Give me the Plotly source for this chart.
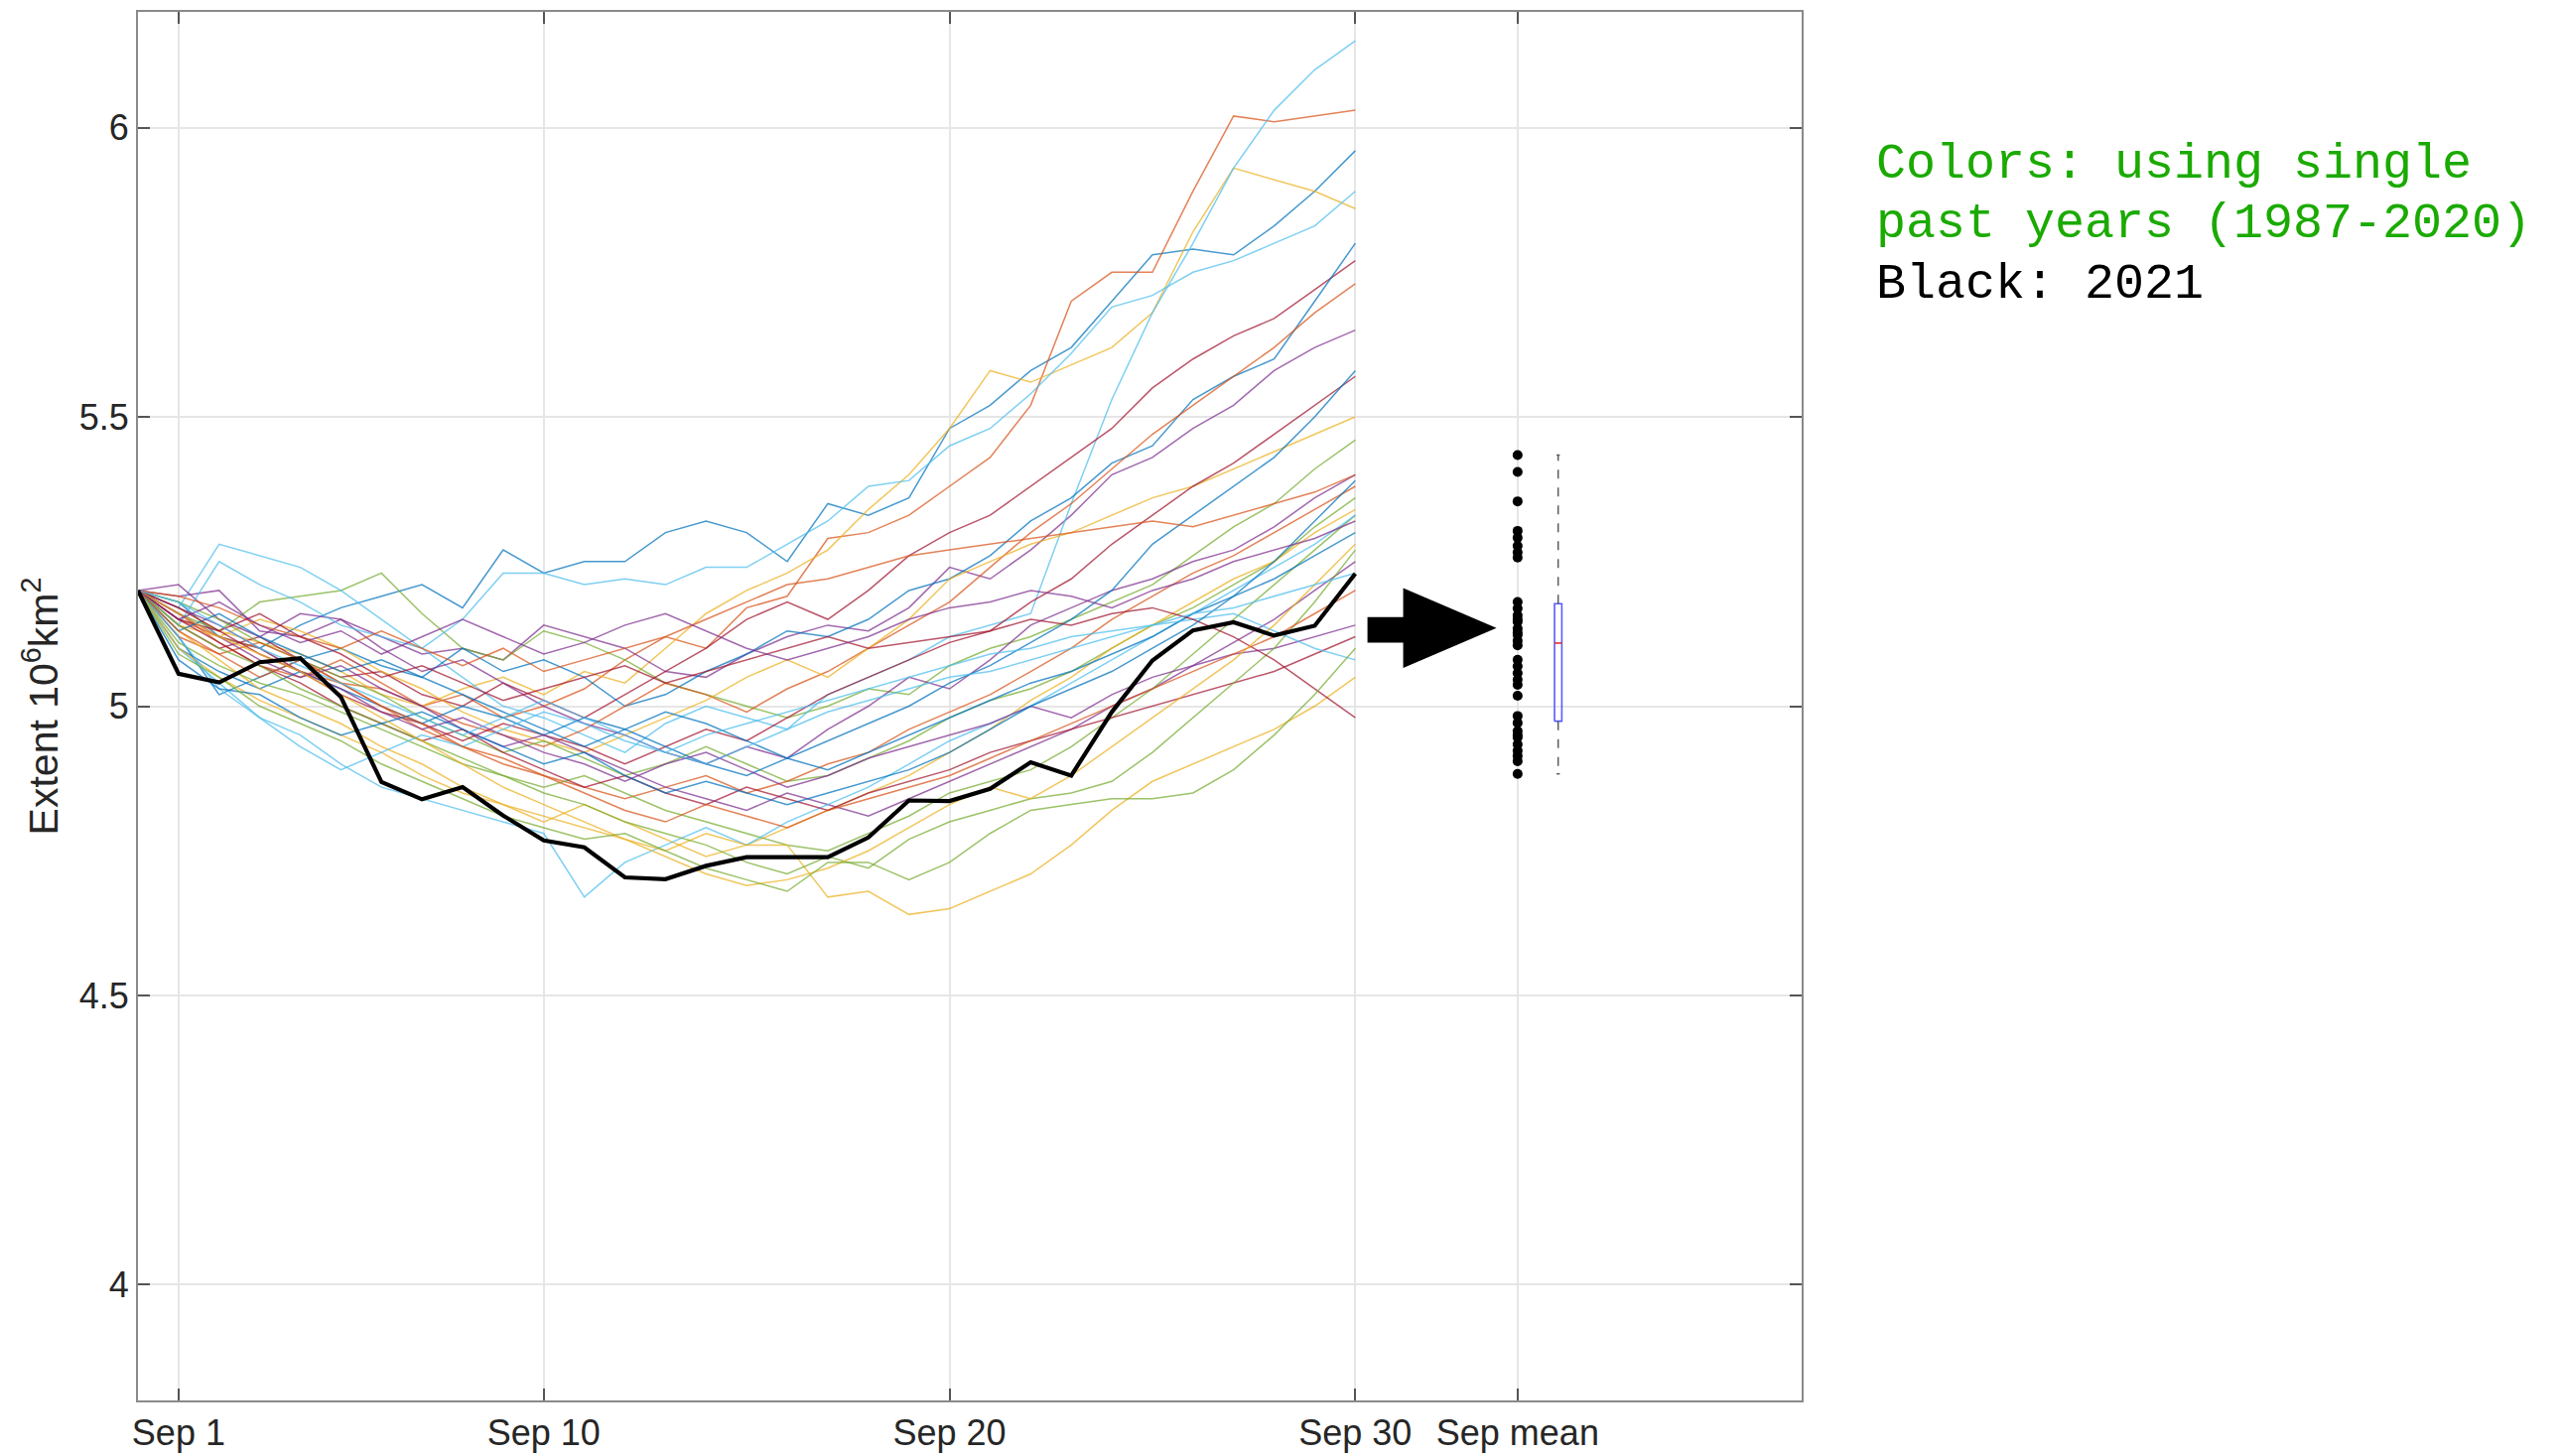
import numpy as np
import plotly.graph_objects as go

# ---------------- data ----------------
days = list(range(0, 31))            # 0 = Aug 31, 1 = Sep 1 ... 30 = Sep 30
tick_vals = [1, 10, 20, 30, 34]
tick_text = ["Sep 1", "Sep 10", "Sep 20", "Sep 30", "Sep mean"]
y_tick_vals = [4, 4.5, 5, 5.5, 6]
y_tick_text = ["4", "4.5", "5", "5.5", "6"]

y1987 = [5.20,5.18,5.12,5.10,5.14,5.17,5.19,5.21,5.17,5.27,5.23,5.25,5.25,5.30,5.32,5.30,5.25,5.35,5.33,5.36,5.48,5.52,5.58,5.62,5.70,5.78,5.79,5.78,5.83,5.89,5.96]
y1988 = [5.20,5.15,5.12,5.10,5.06,5.04,5.03,5.00,5.02,4.98,5.00,5.03,5.08,5.12,5.10,5.17,5.19,5.29,5.30,5.33,5.38,5.43,5.52,5.70,5.75,5.75,5.89,6.02,6.01,6.02,6.03]
y1989 = [5.20,5.17,5.13,5.11,5.09,5.06,5.02,5.00,5.03,5.05,5.02,5.06,5.04,5.10,5.16,5.20,5.23,5.27,5.34,5.40,5.48,5.58,5.56,5.59,5.62,5.68,5.82,5.93,5.91,5.89,5.86]
y1990 = [5.20,5.19,5.20,5.13,5.12,5.15,5.12,5.09,5.10,5.08,5.14,5.12,5.10,5.06,5.05,5.09,5.12,5.14,5.13,5.17,5.24,5.22,5.27,5.33,5.40,5.43,5.48,5.52,5.58,5.62,5.65]
y1991 = [5.20,5.16,5.13,5.18,5.19,5.20,5.23,5.16,5.10,5.08,5.13,5.11,5.08,5.04,5.02,5.00,4.98,5.00,5.03,5.02,5.07,5.10,5.12,5.15,5.18,5.21,5.26,5.31,5.35,5.41,5.46]
y1992 = [5.20,5.17,5.28,5.26,5.24,5.20,5.15,5.10,5.05,5.00,4.98,4.95,4.92,4.97,5.00,4.98,4.96,5.02,5.05,5.08,5.12,5.14,5.16,5.35,5.53,5.68,5.80,5.93,6.03,6.10,6.15]
y1993 = [5.20,5.14,5.10,5.12,5.08,5.05,5.06,5.02,5.00,5.04,5.01,4.98,5.02,5.06,5.10,5.15,5.18,5.15,5.20,5.26,5.30,5.33,5.38,5.43,5.48,5.55,5.60,5.64,5.67,5.72,5.77]
y1994 = [5.20,5.12,5.02,5.05,5.08,5.10,5.07,5.05,5.10,5.06,5.08,5.05,5.00,5.02,5.06,5.09,5.13,5.12,5.15,5.20,5.22,5.26,5.32,5.36,5.42,5.45,5.53,5.57,5.60,5.70,5.80]
y1995 = [5.20,5.16,5.11,5.07,5.05,5.08,5.04,5.00,4.97,4.95,4.93,4.96,5.00,5.04,5.02,4.99,5.03,5.06,5.10,5.14,5.18,5.24,5.30,5.35,5.41,5.47,5.52,5.57,5.62,5.68,5.73]
y1996 = [5.20,5.14,5.12,5.15,5.13,5.10,5.06,5.03,4.99,4.96,4.94,4.92,4.95,4.98,5.01,5.05,5.08,5.05,5.10,5.15,5.22,5.25,5.28,5.30,5.33,5.36,5.38,5.41,5.44,5.47,5.50]
y1997 = [5.20,5.21,5.15,5.12,5.16,5.15,5.10,5.06,5.08,5.04,5.00,4.97,4.95,4.92,4.90,4.93,4.91,4.96,5.00,5.05,5.03,5.08,5.14,5.17,5.20,5.22,5.25,5.27,5.31,5.36,5.40]
y1998 = [5.20,5.18,5.15,5.11,5.08,5.05,5.02,4.98,4.95,4.92,4.94,4.91,4.88,4.90,4.93,4.90,4.87,4.88,4.91,4.94,4.98,5.01,5.03,5.06,5.10,5.14,5.17,5.21,5.25,5.31,5.36]
y1999 = [5.20,5.14,5.25,5.21,5.18,5.14,5.12,5.10,5.15,5.23,5.23,5.21,5.22,5.21,5.24,5.24,5.28,5.32,5.38,5.39,5.45,5.48,5.54,5.61,5.69,5.71,5.75,5.77,5.80,5.83,5.89]
y2000 = [5.20,5.15,5.13,5.09,5.06,5.02,4.99,4.97,4.94,4.97,4.95,4.93,4.90,4.93,4.96,4.94,4.98,5.02,5.05,5.08,5.11,5.13,5.18,5.22,5.28,5.33,5.38,5.42,5.47,5.52,5.57]
y2001 = [5.20,5.10,5.06,5.03,5.06,5.03,5.00,4.97,5.00,4.98,4.95,4.98,4.96,4.93,4.90,4.88,4.91,4.94,4.97,5.00,5.04,5.07,5.11,5.15,5.20,5.28,5.33,5.38,5.43,5.50,5.58]
y2002 = [5.20,5.12,5.09,5.11,5.08,5.04,5.00,4.96,4.93,4.91,4.88,4.86,4.84,4.86,4.88,4.85,4.87,4.90,4.92,4.96,4.99,5.02,5.06,5.10,5.15,5.19,5.23,5.26,5.30,5.34,5.38]
y2003 = [5.20,5.13,5.08,5.03,5.00,4.97,4.93,4.90,4.86,4.83,4.80,4.83,4.80,4.77,4.74,4.76,4.79,4.82,4.85,4.88,4.92,4.96,5.01,5.05,5.10,5.14,5.18,5.22,5.25,5.30,5.34]
y2004 = [5.20,5.16,5.12,5.08,5.05,5.07,5.03,5.00,4.96,4.93,4.95,4.92,4.89,4.86,4.84,4.82,4.85,4.83,4.81,4.84,4.87,4.90,4.93,4.96,5.00,5.03,5.07,5.11,5.15,5.20,5.25]
y2005 = [5.20,5.11,5.07,5.04,5.02,4.99,4.96,4.93,4.90,4.88,4.86,4.88,4.85,4.82,4.80,4.78,4.76,4.75,4.78,4.81,4.85,4.87,4.89,4.93,4.98,5.03,5.09,5.15,5.21,5.27,5.33]
y2006 = [5.20,5.10,5.04,4.98,4.95,4.90,4.86,4.84,4.82,4.80,4.78,4.67,4.73,4.76,4.79,4.76,4.80,4.83,4.86,4.90,4.94,4.97,5.00,5.04,5.08,5.12,5.16,5.20,5.24,5.28,5.33]
y2007 = [5.20,5.15,5.11,5.07,5.04,5.00,4.97,4.94,4.96,4.92,4.89,4.86,4.88,4.85,4.83,4.86,4.84,4.82,4.85,4.87,4.89,4.92,4.94,4.96,4.98,5.00,5.02,5.04,5.06,5.09,5.12]
y2008 = [5.20,5.13,5.16,5.12,5.09,5.06,5.08,5.05,5.02,4.99,4.96,4.93,4.96,4.99,4.97,4.94,4.91,4.89,4.92,4.95,4.98,5.01,5.04,5.06,5.09,5.12,5.16,5.19,5.22,5.26,5.30]
y2009 = [5.20,5.19,5.17,5.14,5.12,5.10,5.13,5.10,5.07,5.10,5.06,5.08,5.10,5.12,5.15,5.18,5.21,5.22,5.24,5.26,5.27,5.28,5.29,5.30,5.31,5.32,5.31,5.33,5.35,5.37,5.40]
y2010 = [5.20,5.10,5.05,5.01,4.98,4.95,4.92,4.88,4.85,4.83,4.81,4.79,4.77,4.75,4.78,4.76,4.76,4.67,4.68,4.64,4.65,4.68,4.71,4.76,4.82,4.87,4.90,4.93,4.96,5.00,5.05]
y2011 = [5.20,5.17,5.14,5.10,5.06,5.03,4.99,4.96,4.98,4.95,4.92,4.90,4.87,4.90,4.92,4.89,4.86,4.88,4.91,4.93,4.95,4.97,5.00,4.98,5.02,5.05,5.07,5.09,5.10,5.12,5.14]
y2012 = [5.20,5.14,5.10,5.07,5.03,5.00,4.97,4.94,4.91,4.88,4.85,4.83,4.80,4.78,4.76,4.73,4.71,4.74,4.72,4.77,4.80,4.82,4.84,4.85,4.87,4.92,4.98,5.04,5.10,5.18,5.27]
y2013 = [5.20,5.12,5.03,4.98,4.93,4.89,4.92,4.95,4.93,4.96,4.99,4.97,4.94,4.92,4.95,4.97,4.99,5.01,5.03,5.05,5.07,5.09,5.10,5.12,5.13,5.14,5.15,5.16,5.13,5.10,5.08]
y2014 = [5.20,5.17,5.13,5.16,5.12,5.09,5.05,5.07,5.04,5.01,5.03,5.05,5.07,5.04,5.06,5.08,5.10,5.12,5.10,5.11,5.12,5.13,5.15,5.14,5.16,5.17,5.15,5.12,5.08,5.03,4.98]
y2015 = [5.20,5.08,5.03,5.02,4.98,4.95,4.97,4.99,4.96,4.93,4.90,4.92,4.88,4.85,4.87,4.85,4.83,4.85,4.87,4.89,4.92,4.96,5.00,5.03,5.06,5.10,5.14,5.19,5.25,5.32,5.39]
y2016 = [5.20,5.13,5.09,5.05,5.08,5.04,5.00,4.97,4.93,4.90,4.88,4.85,4.82,4.80,4.83,4.81,4.79,4.82,4.84,4.86,4.88,4.91,4.94,4.97,5.00,5.03,5.06,5.09,5.12,5.16,5.20]
y2017 = [5.20,5.16,5.12,5.09,5.06,5.02,4.98,4.94,4.90,4.86,4.83,4.80,4.77,4.74,4.71,4.69,4.70,4.72,4.75,4.79,4.83,4.86,4.84,4.88,4.93,4.98,5.03,5.08,5.14,5.21,5.28]
y2018 = [5.20,5.15,5.18,5.14,5.11,5.13,5.09,5.12,5.15,5.12,5.09,5.11,5.14,5.16,5.13,5.10,5.08,5.10,5.12,5.15,5.17,5.18,5.20,5.19,5.17,5.20,5.22,5.25,5.27,5.29,5.32]
y2019 = [5.20,5.09,5.05,5.00,4.97,4.94,4.90,4.87,4.84,4.81,4.79,4.77,4.78,4.75,4.72,4.70,4.68,4.73,4.73,4.70,4.73,4.78,4.82,4.83,4.84,4.84,4.85,4.89,4.95,5.02,5.10]
y2020 = [5.20,5.18,5.14,5.10,5.07,5.04,5.01,4.98,4.95,4.98,5.01,4.98,4.95,4.92,4.90,4.93,4.96,4.99,5.01,5.03,5.05,5.06,5.08,5.10,5.12,5.14,5.16,5.17,5.19,5.21,5.23]

y2021 = [5.20,5.056,5.041,5.076,5.083,5.016,4.869,4.839,4.860,4.811,4.768,4.756,4.704,4.701,4.724,4.739,4.739,4.739,4.773,4.837,4.836,4.857,4.903,4.880,4.990,5.079,5.131,5.145,5.122,5.139,5.229]

past_years = [y1987, y1988, y1989, y1990, y1991, y1992, y1993, y1994, y1995, y1996,
              y1997, y1998, y1999, y2000, y2001, y2002, y2003, y2004, y2005, y2006,
              y2007, y2008, y2009, y2010, y2011, y2012, y2013, y2014, y2015, y2016,
              y2017, y2018, y2019, y2020]
year_labels = list(range(1987, 2021))

# September-mean outcomes (dots at "Sep mean")
sep_mean = [5.434, 5.405, 5.354, 5.303, 5.291, 5.277, 5.266, 5.257, 5.180, 5.169,
            5.157, 5.150, 5.146, 5.134, 5.127, 5.123, 5.113, 5.105, 5.080, 5.069,
            5.057, 5.046, 5.037, 5.018, 4.983, 4.971, 4.957, 4.950, 4.946, 4.934,
            4.923, 4.914, 4.905, 4.883]

# ---------------- styling ----------------
matlab_colors = ["#0072BD", "#D95319", "#EDB120", "#7E2F8E", "#77AC30", "#4DBEEE", "#A2142F"]
SEP_MEAN_X = 34
BOX_X = 35
BOX_HALF = 0.09
CAP_HALF = 0.04

fig = go.Figure()

for i, ys in enumerate(past_years):
    fig.add_trace(go.Scatter(
        x=days, y=ys, mode="lines",
        line=dict(color=matlab_colors[i % 7], width=1.5),
        opacity=0.72, name=str(year_labels[i]), showlegend=False))

fig.add_trace(go.Scatter(x=days, y=y2021, mode="lines",
                         line=dict(color="black", width=4.2), name="2021", showlegend=False))

# dots of September means
fig.add_trace(go.Scatter(x=[SEP_MEAN_X] * len(sep_mean), y=sep_mean, mode="markers",
                         marker=dict(color="black", size=10), showlegend=False))

# MATLAB-style box plot computed from the sep_mean values
q1, med, q3 = np.percentile(sep_mean, [25, 50, 75])
lo, hi = min(sep_mean), max(sep_mean)
bx0, bx1 = BOX_X - BOX_HALF, BOX_X + BOX_HALF
fig.add_trace(go.Scatter(x=[bx0, bx1, bx1, bx0, bx0], y=[q1, q1, q3, q3, q1], mode="lines",
                         line=dict(color="#5a5aff", width=1.6), showlegend=False))
fig.add_trace(go.Scatter(x=[bx0, bx1], y=[med, med], mode="lines",
                         line=dict(color="#e03030", width=1.6), showlegend=False))
for a, b in [(q3, hi), (q1, lo)]:
    fig.add_trace(go.Scatter(x=[BOX_X, BOX_X], y=[a, b], mode="lines",
                             line=dict(color="#555555", width=1.4, dash="dash"), showlegend=False))
    fig.add_trace(go.Scatter(x=[BOX_X - CAP_HALF, BOX_X + CAP_HALF], y=[b, b], mode="lines",
                             line=dict(color="#555555", width=1.4), showlegend=False))

# big black arrow pointing at the Sep-mean dots
ax0, axm, axt = 30.30, 31.18, 33.48
ay_s0, ay_s1, ay_h0, ay_h1, ay_t = 5.110, 5.154, 5.066, 5.204, 5.135
fig.add_shape(type="path", xref="x", yref="y",
              path=(f"M {ax0},{ay_s0} L {axm},{ay_s0} L {axm},{ay_h0} L {axt},{ay_t} "
                    f"L {axm},{ay_h1} L {axm},{ay_s1} L {ax0},{ay_s1} Z"),
              fillcolor="black", line=dict(color="black", width=0))

axis_common = dict(showline=True, linecolor="#8a8a8a", linewidth=2, mirror="ticks",
                   ticks="inside", ticklen=12, tickwidth=1.5, tickcolor="#555555",
                   showgrid=True, gridcolor="#e6e6e6", gridwidth=1.5, zeroline=False,
                   automargin=False,
                   tickfont=dict(family="Liberation Sans, Arial", size=36, color="#262626"))

fig.update_xaxes(range=[0, 41], tickmode="array", tickvals=tick_vals, ticktext=tick_text,
                 **axis_common)
fig.update_yaxes(range=[3.8, 6.2], tickmode="array", tickvals=y_tick_vals, ticktext=y_tick_text,
                 title=dict(text="Extent 10<sup>6</sup>km<sup>2</sup>",
                            font=dict(family="Liberation Sans, Arial", size=41, color="#262626"),
                            standoff=8),
                 **axis_common)

note_font = "Liberation Mono, Courier New, monospace"
notes = [("Colors: using single", "#1aaa00", 0.8906),
         ("past years (1987-2020)", "#1aaa00", 0.8472),
         ("Black: 2021", "black", 0.8037)]
for txt, col, yy in notes:
    fig.add_annotation(text=txt, xref="paper", yref="paper", x=1.0436, y=yy,
                       xanchor="left", yanchor="middle", showarrow=False,
                       font=dict(family=note_font, size=50, color=col))

# the page body adds an 8 px offset, so margins compensate for it
fig.update_layout(width=2583, height=1467, plot_bgcolor="white", paper_bgcolor="white",
                  margin=dict(l=131, r=776, t=4, b=64), showlegend=False)

fig.write_html("out.html")
